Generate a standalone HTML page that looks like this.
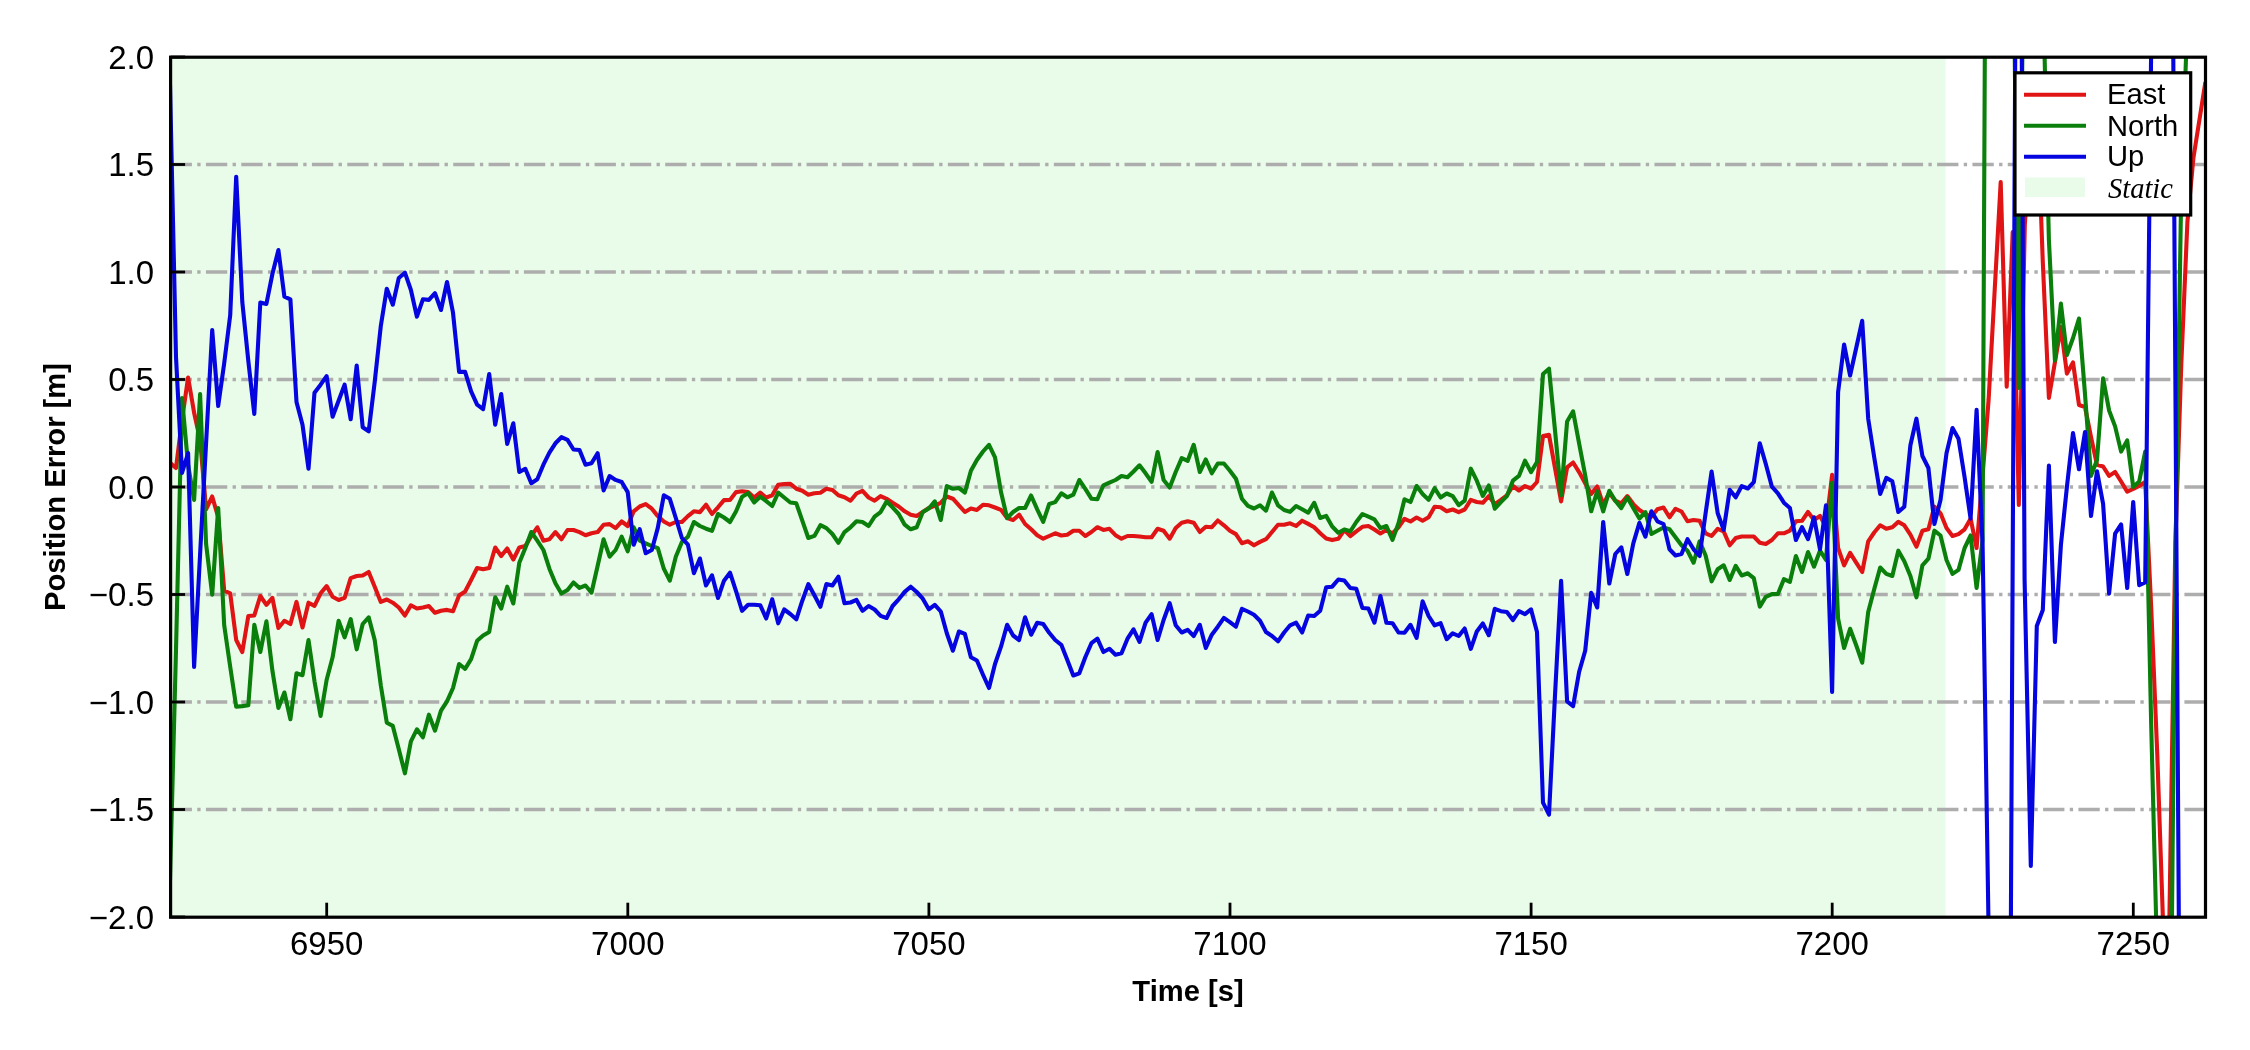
<!DOCTYPE html>
<html><head><meta charset="utf-8"><title>Position Error</title>
<style>html,body{margin:0;padding:0;background:#fff;}body{width:2250px;height:1050px;overflow:hidden;position:relative;font-family:"Liberation Sans",sans-serif;}</style></head>
<body>
<svg width="2250" height="1050" viewBox="0 0 2250 1050" style="position:absolute;left:0;top:0">
<defs><clipPath id="ax"><rect x="170.6" y="57.2" width="2034.9" height="860.0"/></clipPath></defs>
<rect x="0" y="0" width="2250" height="1050" fill="#ffffff"/>
<rect x="170.6" y="57.2" width="1775.0" height="860.0" fill="#e9fce9"/>
<line x1="170.6" y1="164.5" x2="2205.5" y2="164.5" stroke="#adadad" stroke-width="3.33" stroke-dasharray="21.33 5.33 3.33 5.34"/>
<line x1="170.6" y1="272.0" x2="2205.5" y2="272.0" stroke="#adadad" stroke-width="3.33" stroke-dasharray="21.33 5.33 3.33 5.34"/>
<line x1="170.6" y1="379.5" x2="2205.5" y2="379.5" stroke="#adadad" stroke-width="3.33" stroke-dasharray="21.33 5.33 3.33 5.34"/>
<line x1="170.6" y1="487.0" x2="2205.5" y2="487.0" stroke="#adadad" stroke-width="3.33" stroke-dasharray="21.33 5.33 3.33 5.34"/>
<line x1="170.6" y1="594.5" x2="2205.5" y2="594.5" stroke="#adadad" stroke-width="3.33" stroke-dasharray="21.33 5.33 3.33 5.34"/>
<line x1="170.6" y1="702.0" x2="2205.5" y2="702.0" stroke="#adadad" stroke-width="3.33" stroke-dasharray="21.33 5.33 3.33 5.34"/>
<line x1="170.6" y1="809.5" x2="2205.5" y2="809.5" stroke="#adadad" stroke-width="3.33" stroke-dasharray="21.33 5.33 3.33 5.34"/>
<g clip-path="url(#ax)" fill="none" stroke-linejoin="round" stroke-linecap="butt">
<path d="M170.0,462.7 L176.0,468.0 L182.0,420.0 L188.1,377.5 L194.1,412.7 L200.1,440.0 L206.1,509.3 L212.2,496.5 L218.2,517.3 L224.2,590.7 L230.2,593.3 L236.2,640.0 L242.3,652.0 L248.3,616.0 L254.3,615.5 L260.3,596.0 L266.4,604.8 L272.4,597.9 L278.4,628.0 L284.4,620.8 L290.4,624.0 L296.5,601.9 L302.5,627.5 L308.5,602.7 L314.5,605.9 L320.6,593.3 L326.6,586.1 L332.6,596.8 L338.6,600.0 L344.6,597.9 L350.7,578.1 L356.7,576.0 L362.7,575.5 L368.7,572.0 L374.7,586.7 L380.8,601.9 L386.8,599.5 L392.8,602.7 L398.8,607.5 L404.9,615.5 L410.9,605.3 L416.9,608.5 L422.9,607.5 L428.9,606.1 L435.0,612.8 L441.0,610.7 L447.0,609.9 L453.0,611.2 L459.1,595.5 L465.1,591.5 L471.1,580.0 L477.1,568.0 L483.1,569.3 L489.2,568.0 L495.2,547.5 L501.2,556.0 L507.2,548.5 L513.3,559.5 L519.3,547.5 L525.3,546.1 L531.3,536.0 L537.3,527.3 L543.4,540.7 L549.4,539.3 L555.4,532.1 L561.4,539.3 L567.5,530.0 L573.5,530.0 L579.5,532.1 L585.5,535.3 L591.5,533.2 L597.6,532.1 L603.6,524.7 L609.6,524.1 L615.6,528.1 L621.7,521.5 L627.7,526.0 L633.7,511.3 L639.7,506.5 L645.7,504.1 L651.8,508.7 L657.8,516.1 L663.8,521.5 L669.8,524.7 L675.8,522.0 L681.9,522.0 L687.9,516.1 L693.9,511.3 L699.9,512.1 L706.0,504.7 L712.0,514.0 L718.0,507.3 L724.0,500.1 L730.0,499.9 L736.1,492.1 L742.1,491.3 L748.1,492.1 L754.1,497.5 L760.2,492.7 L766.2,497.5 L772.2,495.3 L778.2,484.7 L784.2,484.1 L790.3,483.9 L796.3,488.7 L802.3,490.8 L808.3,494.8 L814.4,493.2 L820.4,492.7 L826.4,488.7 L832.4,490.0 L838.4,495.3 L844.5,497.2 L850.5,500.7 L856.5,493.5 L862.5,490.8 L868.6,497.5 L874.6,500.7 L880.6,496.1 L886.6,498.8 L892.6,502.8 L898.7,506.5 L904.7,511.3 L910.7,514.7 L916.7,516.0 L922.8,512.0 L928.8,508.0 L934.8,505.9 L940.8,502.7 L946.8,496.5 L952.9,498.7 L958.9,505.3 L964.9,512.0 L970.9,508.5 L976.9,509.9 L983.0,504.8 L989.0,505.3 L995.0,507.5 L1001.0,509.9 L1007.1,518.1 L1013.1,520.0 L1019.1,514.7 L1025.1,524.0 L1031.1,529.3 L1037.2,535.2 L1043.2,538.7 L1049.2,536.0 L1055.2,533.3 L1061.3,535.5 L1067.3,534.7 L1073.3,530.7 L1079.3,530.7 L1085.3,536.0 L1091.4,532.0 L1097.4,527.2 L1103.4,529.9 L1109.4,528.8 L1115.5,535.2 L1121.5,538.7 L1127.5,536.0 L1133.5,536.0 L1139.5,536.5 L1145.6,537.3 L1151.6,537.3 L1157.6,528.8 L1163.6,530.7 L1169.7,538.7 L1175.7,528.0 L1181.7,522.7 L1187.7,521.3 L1193.7,522.7 L1199.8,532.0 L1205.8,526.7 L1211.8,527.2 L1217.8,520.5 L1223.9,525.3 L1229.9,530.7 L1235.9,534.1 L1241.9,543.2 L1247.9,541.3 L1254.0,545.3 L1260.0,541.9 L1266.0,539.2 L1272.0,532.0 L1278.0,524.8 L1284.1,524.7 L1290.1,523.3 L1296.1,526.0 L1302.1,520.7 L1308.2,523.9 L1314.2,527.3 L1320.2,533.2 L1326.2,538.5 L1332.2,540.1 L1338.3,538.8 L1344.3,530.0 L1350.3,536.1 L1356.3,531.3 L1362.4,526.8 L1368.4,526.0 L1374.4,529.5 L1380.4,533.5 L1386.4,530.0 L1392.5,533.5 L1398.5,527.3 L1404.5,518.8 L1410.5,521.5 L1416.6,517.5 L1422.6,520.7 L1428.6,517.2 L1434.6,506.8 L1440.6,507.3 L1446.7,511.3 L1452.7,509.5 L1458.7,512.1 L1464.7,509.5 L1470.8,499.9 L1476.8,502.0 L1482.8,502.8 L1488.8,496.1 L1494.8,504.1 L1500.9,499.9 L1506.9,495.3 L1512.9,486.0 L1518.9,490.5 L1525.0,486.0 L1531.0,488.7 L1537.0,482.0 L1543.0,435.9 L1549.0,434.8 L1555.1,468.7 L1561.1,501.5 L1567.1,467.3 L1573.1,462.5 L1579.1,472.1 L1585.2,483.3 L1591.2,494.0 L1597.2,486.5 L1603.2,504.7 L1609.3,492.7 L1615.3,500.7 L1621.3,503.3 L1627.3,496.1 L1633.3,504.1 L1639.4,510.0 L1645.4,514.0 L1651.4,516.7 L1657.4,509.3 L1663.5,507.5 L1669.5,517.3 L1675.5,508.8 L1681.5,511.5 L1687.5,521.3 L1693.6,520.0 L1699.6,520.8 L1705.6,533.3 L1711.6,536.0 L1717.7,528.8 L1723.7,531.5 L1729.7,545.3 L1735.7,538.1 L1741.7,536.5 L1747.8,536.5 L1753.8,536.5 L1759.8,542.7 L1765.8,544.0 L1771.9,540.0 L1777.9,533.3 L1783.9,533.3 L1789.9,530.7 L1795.9,521.3 L1802.0,520.8 L1808.0,512.0 L1814.0,520.0 L1820.0,516.0 L1826.0,526.7 L1832.1,474.9 L1838.1,548.0 L1844.1,565.3 L1850.1,552.8 L1856.2,562.7 L1862.2,572.0 L1868.2,541.3 L1874.2,532.5 L1880.2,525.3 L1886.3,528.8 L1892.3,527.2 L1898.3,521.9 L1904.3,525.3 L1910.4,534.7 L1916.4,546.7 L1922.4,530.7 L1928.4,529.3 L1934.4,506.7 L1940.5,513.3 L1946.5,528.0 L1952.5,536.0 L1958.5,534.1 L1964.6,529.3 L1970.6,518.7 L1976.6,548.0 L1982.6,475.0 L1988.6,400.0 L1994.7,290.0 L2000.7,182.0 L2006.7,386.7 L2012.7,232.0 L2018.8,505.0 L2024.8,225.0 L2030.8,130.0 L2036.8,100.0 L2042.8,262.0 L2048.9,398.0 L2054.9,362.4 L2060.9,327.0 L2066.9,373.6 L2073.0,362.4 L2079.0,405.0 L2085.0,407.0 L2091.0,437.0 L2097.0,464.7 L2103.1,466.5 L2109.1,475.9 L2115.1,472.0 L2121.1,481.5 L2127.2,491.7 L2133.2,489.0 L2139.2,486.0 L2145.2,482.0 L2151.2,607.0 L2157.3,755.0 L2163.3,930.0 L2169.3,925.0 L2175.3,545.0 L2181.3,364.0 L2187.4,222.0 L2193.4,158.0 L2199.4,120.0 L2205.4,82.0" stroke="#e01414" stroke-width="4.1"/>
<path d="M170.0,880.0 L176.0,650.0 L182.0,398.0 L188.1,465.0 L194.1,500.0 L200.1,394.0 L206.1,544.0 L212.2,594.7 L218.2,508.0 L224.2,625.3 L230.2,666.7 L236.2,706.7 L242.3,706.1 L248.3,705.3 L254.3,624.8 L260.3,652.0 L266.4,621.3 L272.4,670.7 L278.4,708.0 L284.4,692.5 L290.4,719.2 L296.5,673.3 L302.5,675.2 L308.5,640.0 L314.5,681.3 L320.6,716.0 L326.6,680.0 L332.6,657.3 L338.6,620.8 L344.6,637.3 L350.7,619.2 L356.7,649.3 L362.7,624.0 L368.7,617.3 L374.7,640.0 L380.8,685.3 L386.8,722.7 L392.8,725.9 L398.8,749.3 L404.9,773.3 L410.9,741.3 L416.9,729.3 L422.9,737.3 L428.9,714.7 L435.0,730.7 L441.0,710.7 L447.0,701.3 L453.0,688.0 L459.1,664.0 L465.1,668.8 L471.1,659.2 L477.1,640.8 L483.1,635.5 L489.2,632.0 L495.2,597.3 L501.2,608.5 L507.2,586.7 L513.3,603.5 L519.3,562.7 L525.3,548.0 L531.3,532.0 L537.3,540.7 L543.4,550.0 L549.4,568.7 L555.4,583.3 L561.4,593.5 L567.5,590.0 L573.5,582.5 L579.5,587.9 L585.5,585.5 L591.5,592.7 L597.6,566.0 L603.6,539.3 L609.6,556.7 L615.6,550.0 L621.7,536.7 L627.7,551.3 L633.7,527.3 L639.7,540.7 L645.7,543.3 L651.8,546.0 L657.8,548.1 L663.8,568.7 L669.8,580.7 L675.8,556.7 L681.9,542.0 L687.9,536.7 L693.9,522.0 L699.9,526.0 L706.0,528.7 L712.0,530.8 L718.0,514.0 L724.0,517.5 L730.0,522.0 L736.1,511.3 L742.1,496.7 L748.1,493.2 L754.1,502.5 L760.2,496.7 L766.2,501.2 L772.2,506.0 L778.2,492.7 L784.2,497.5 L790.3,502.5 L796.3,503.3 L802.3,520.7 L808.3,538.0 L814.4,535.9 L820.4,525.2 L826.4,528.1 L832.4,534.0 L838.4,542.8 L844.5,532.1 L850.5,527.3 L856.5,521.2 L862.5,522.0 L868.6,526.0 L874.6,516.7 L880.6,512.1 L886.6,501.5 L892.6,507.3 L898.7,514.0 L904.7,524.7 L910.7,529.3 L916.7,527.2 L922.8,512.0 L928.8,508.5 L934.8,501.3 L940.8,520.0 L946.8,486.1 L952.9,488.8 L958.9,488.0 L964.9,492.5 L970.9,470.7 L976.9,460.0 L983.0,451.5 L989.0,444.8 L995.0,457.3 L1001.0,492.0 L1007.1,518.1 L1013.1,512.0 L1019.1,508.0 L1025.1,508.0 L1031.1,495.5 L1037.2,509.3 L1043.2,521.9 L1049.2,504.0 L1055.2,502.1 L1061.3,493.3 L1067.3,497.3 L1073.3,494.7 L1079.3,480.0 L1085.3,488.8 L1091.4,498.7 L1097.4,499.2 L1103.4,485.3 L1109.4,482.7 L1115.5,480.0 L1121.5,476.0 L1127.5,477.3 L1133.5,471.5 L1139.5,465.3 L1145.6,473.3 L1151.6,481.9 L1157.6,452.0 L1163.6,480.0 L1169.7,487.5 L1175.7,472.0 L1181.7,458.1 L1187.7,460.8 L1193.7,444.8 L1199.8,472.0 L1205.8,459.5 L1211.8,473.3 L1217.8,463.5 L1223.9,463.5 L1229.9,470.7 L1235.9,478.7 L1241.9,498.7 L1247.9,505.9 L1254.0,508.5 L1260.0,505.3 L1266.0,510.7 L1272.0,492.5 L1278.0,505.3 L1284.1,510.0 L1290.1,511.9 L1296.1,506.0 L1302.1,509.2 L1308.2,512.7 L1314.2,502.8 L1320.2,518.0 L1326.2,515.9 L1332.2,526.5 L1338.3,532.7 L1344.3,529.5 L1350.3,531.3 L1356.3,522.0 L1362.4,514.0 L1368.4,516.7 L1374.4,519.3 L1380.4,528.1 L1386.4,526.0 L1392.5,539.9 L1398.5,523.3 L1404.5,499.3 L1410.5,502.0 L1416.6,486.0 L1422.6,494.0 L1428.6,499.9 L1434.6,488.1 L1440.6,497.5 L1446.7,493.5 L1452.7,496.1 L1458.7,505.2 L1464.7,500.7 L1470.8,468.7 L1476.8,480.7 L1482.8,495.9 L1488.8,485.5 L1494.8,508.7 L1500.9,502.0 L1506.9,496.1 L1512.9,480.7 L1518.9,475.9 L1525.0,460.7 L1531.0,472.1 L1537.0,462.0 L1543.0,374.0 L1549.0,368.7 L1555.1,431.3 L1561.1,495.3 L1567.1,421.5 L1573.1,411.3 L1579.1,443.3 L1585.2,475.3 L1591.2,511.3 L1597.2,491.3 L1603.2,511.3 L1609.3,490.8 L1615.3,500.7 L1621.3,508.1 L1627.3,497.5 L1633.3,508.1 L1639.4,518.5 L1645.4,512.1 L1651.4,534.0 L1657.4,530.7 L1663.5,527.5 L1669.5,529.3 L1675.5,537.3 L1681.5,545.3 L1687.5,550.7 L1693.6,562.7 L1699.6,541.3 L1705.6,555.5 L1711.6,581.3 L1717.7,569.3 L1723.7,565.3 L1729.7,580.0 L1735.7,565.9 L1741.7,575.5 L1747.8,573.3 L1753.8,578.1 L1759.8,606.7 L1765.8,596.8 L1771.9,594.1 L1777.9,593.9 L1783.9,579.2 L1789.9,581.9 L1795.9,556.0 L1802.0,572.0 L1808.0,552.0 L1814.0,566.7 L1820.0,550.7 L1826.0,560.0 L1832.1,482.9 L1838.1,618.7 L1844.1,648.0 L1850.1,628.8 L1856.2,645.3 L1862.2,662.7 L1868.2,612.0 L1874.2,589.3 L1880.2,567.5 L1886.3,573.9 L1892.3,576.0 L1898.3,550.7 L1904.3,561.3 L1910.4,576.0 L1916.4,597.3 L1922.4,565.3 L1928.4,558.7 L1934.4,530.7 L1940.5,535.5 L1946.5,560.0 L1952.5,573.9 L1958.5,569.9 L1964.6,548.0 L1970.6,535.5 L1976.6,588.0 L1982.6,540.0 L1988.6,-774.0 L1994.7,-900.0 L2000.7,-900.0 L2006.7,-900.0 L2012.7,-110.0 L2018.8,388.0 L2024.8,-173.0 L2030.8,-900.0 L2036.8,-600.0 L2042.8,-20.0 L2048.9,240.0 L2054.9,360.5 L2060.9,303.6 L2066.9,355.0 L2073.0,338.0 L2079.0,318.5 L2085.0,394.0 L2091.0,475.9 L2097.0,460.0 L2103.1,378.3 L2109.1,410.5 L2115.1,426.4 L2121.1,451.6 L2127.2,440.4 L2133.2,487.0 L2139.2,481.5 L2145.2,451.6 L2151.2,725.0 L2157.3,965.0 L2163.3,1100.0 L2169.3,1200.0 L2175.3,566.0 L2181.3,187.0 L2187.4,20.0 L2193.4,-200.0" stroke="#0b7f0b" stroke-width="4.1"/>
<path d="M170.0,85.0 L176.0,357.0 L182.0,473.0 L188.1,453.0 L194.1,667.0 L200.1,554.0 L206.1,443.0 L212.2,330.0 L218.2,406.0 L224.2,363.3 L230.2,315.3 L236.2,176.7 L242.3,302.0 L248.3,360.7 L254.3,414.0 L260.3,302.5 L266.4,303.9 L272.4,274.0 L278.4,250.0 L284.4,296.7 L290.4,299.3 L296.5,402.0 L302.5,424.7 L308.5,468.8 L314.5,392.7 L320.6,384.7 L326.6,376.1 L332.6,416.7 L338.6,400.7 L344.6,384.7 L350.7,419.3 L356.7,365.5 L362.7,427.3 L368.7,431.3 L374.7,382.0 L380.8,326.0 L386.8,288.7 L392.8,304.7 L398.8,278.0 L404.9,272.7 L410.9,290.0 L416.9,316.7 L422.9,299.3 L428.9,299.9 L435.0,293.2 L441.0,310.0 L447.0,282.0 L453.0,312.7 L459.1,371.9 L465.1,371.9 L471.1,391.3 L477.1,404.7 L483.1,409.2 L489.2,374.0 L495.2,424.7 L501.2,394.0 L507.2,444.0 L513.3,423.3 L519.3,472.0 L525.3,468.8 L531.3,483.2 L537.3,479.3 L543.4,464.7 L549.4,452.7 L555.4,443.3 L561.4,437.2 L567.5,439.9 L573.5,449.5 L579.5,450.0 L585.5,464.7 L591.5,463.3 L597.6,453.2 L603.6,490.5 L609.6,476.1 L615.6,479.9 L621.7,482.0 L627.7,492.1 L633.7,544.7 L639.7,529.2 L645.7,553.2 L651.8,550.0 L657.8,527.9 L663.8,495.3 L669.8,498.8 L675.8,518.0 L681.9,538.0 L687.9,544.7 L693.9,573.2 L699.9,558.5 L706.0,585.5 L712.0,575.3 L718.0,598.0 L724.0,580.7 L730.0,572.7 L736.1,591.3 L742.1,610.8 L748.1,604.7 L754.1,604.7 L760.2,605.2 L766.2,618.5 L772.2,599.3 L778.2,623.3 L784.2,609.5 L790.3,614.0 L796.3,619.3 L802.3,600.7 L808.3,584.1 L814.4,595.3 L820.4,606.8 L826.4,584.1 L832.4,585.5 L838.4,576.7 L844.5,603.3 L850.5,602.5 L856.5,599.9 L862.5,610.8 L868.6,606.0 L874.6,609.5 L880.6,615.9 L886.6,618.0 L892.6,606.0 L898.7,599.3 L904.7,591.9 L910.7,586.7 L916.7,592.0 L922.8,598.7 L928.8,609.3 L934.8,604.8 L940.8,611.5 L946.8,633.3 L952.9,650.7 L958.9,631.5 L964.9,633.9 L970.9,657.3 L976.9,660.5 L983.0,674.7 L989.0,688.0 L995.0,664.0 L1001.0,646.7 L1007.1,624.8 L1013.1,635.5 L1019.1,640.0 L1025.1,617.3 L1031.1,634.7 L1037.2,622.7 L1043.2,624.0 L1049.2,632.8 L1055.2,640.0 L1061.3,644.8 L1067.3,660.0 L1073.3,675.5 L1079.3,673.3 L1085.3,657.3 L1091.4,643.2 L1097.4,638.7 L1103.4,652.0 L1109.4,648.8 L1115.5,654.7 L1121.5,653.3 L1127.5,638.7 L1133.5,629.3 L1139.5,641.9 L1145.6,622.7 L1151.6,614.1 L1157.6,640.0 L1163.6,620.0 L1169.7,603.2 L1175.7,625.3 L1181.7,632.5 L1187.7,629.9 L1193.7,636.0 L1199.8,624.8 L1205.8,648.0 L1211.8,634.7 L1217.8,626.7 L1223.9,617.9 L1229.9,622.1 L1235.9,626.7 L1241.9,608.8 L1247.9,611.5 L1254.0,614.7 L1260.0,620.8 L1266.0,632.0 L1272.0,636.0 L1278.0,641.3 L1284.1,632.5 L1290.1,625.3 L1296.1,622.7 L1302.1,632.5 L1308.2,615.5 L1314.2,616.0 L1320.2,610.7 L1326.2,587.2 L1332.2,586.7 L1338.3,579.5 L1344.3,580.5 L1350.3,588.0 L1356.3,588.8 L1362.4,608.0 L1368.4,608.5 L1374.4,622.7 L1380.4,596.0 L1386.4,622.7 L1392.5,623.2 L1398.5,632.5 L1404.5,632.8 L1410.5,624.8 L1416.6,637.9 L1422.6,601.3 L1428.6,616.0 L1434.6,625.3 L1440.6,623.2 L1446.7,639.2 L1452.7,633.3 L1458.7,636.0 L1464.7,628.5 L1470.8,648.8 L1476.8,631.5 L1482.8,623.5 L1488.8,635.2 L1494.8,608.8 L1500.9,611.2 L1506.9,612.0 L1512.9,620.0 L1518.9,611.2 L1525.0,614.1 L1531.0,609.3 L1537.0,632.0 L1543.0,802.7 L1549.0,814.7 L1555.1,693.3 L1561.1,580.8 L1567.1,701.3 L1573.1,706.1 L1579.1,672.0 L1585.2,650.7 L1591.2,592.8 L1597.2,607.5 L1603.2,522.0 L1609.3,583.5 L1615.3,554.0 L1621.3,547.3 L1627.3,574.0 L1633.3,543.3 L1639.4,522.8 L1645.4,536.7 L1651.4,511.3 L1657.4,521.3 L1663.5,524.0 L1669.5,549.3 L1675.5,555.5 L1681.5,554.1 L1687.5,539.2 L1693.6,549.3 L1699.6,556.0 L1705.6,513.3 L1711.6,471.5 L1717.7,513.3 L1723.7,529.9 L1729.7,489.9 L1735.7,497.3 L1741.7,486.1 L1747.8,488.5 L1753.8,482.1 L1759.8,443.2 L1765.8,464.0 L1771.9,486.7 L1777.9,493.3 L1783.9,502.7 L1789.9,508.0 L1795.9,540.0 L1802.0,527.2 L1808.0,539.2 L1814.0,517.3 L1820.0,549.3 L1826.0,505.3 L1832.1,692.0 L1838.1,392.0 L1844.1,344.5 L1850.1,375.5 L1856.2,348.0 L1862.2,320.8 L1868.2,418.7 L1874.2,457.3 L1880.2,493.9 L1886.3,477.9 L1892.3,481.3 L1898.3,512.0 L1904.3,506.7 L1910.4,445.3 L1916.4,418.7 L1922.4,456.0 L1928.4,468.0 L1934.4,524.0 L1940.5,500.0 L1946.5,453.3 L1952.5,428.0 L1958.5,438.7 L1964.6,477.3 L1970.6,518.7 L1976.6,409.9 L1982.6,545.0 L1988.6,930.0 L2000.0,1500.0 L2006.6,1777.0 L2010.9,917.0 L2015.2,58.0 L2016.0,-100.0 L2021.0,-100.0 L2021.8,58.0 L2024.6,580.0 L2030.8,866.0 L2036.8,626.0 L2042.8,610.0 L2048.9,465.6 L2054.9,642.0 L2060.9,545.0 L2066.9,487.0 L2073.0,433.0 L2079.0,469.3 L2085.0,432.0 L2091.0,516.0 L2097.0,471.2 L2103.1,503.9 L2109.1,593.6 L2115.1,533.7 L2121.1,524.4 L2127.2,588.0 L2133.2,502.0 L2139.2,585.2 L2145.2,582.4 L2151.2,45.0 L2157.3,-400.0 L2163.3,-500.0 L2169.3,-566.0 L2175.3,370.0 L2181.3,1306.0" stroke="#0505e0" stroke-width="4.1"/>
</g>
<line x1="170.6" y1="57.0" x2="185.1" y2="57.0" stroke="#000" stroke-width="2.8"/>
<line x1="170.6" y1="164.5" x2="185.1" y2="164.5" stroke="#000" stroke-width="2.8"/>
<line x1="170.6" y1="272.0" x2="185.1" y2="272.0" stroke="#000" stroke-width="2.8"/>
<line x1="170.6" y1="379.5" x2="185.1" y2="379.5" stroke="#000" stroke-width="2.8"/>
<line x1="170.6" y1="487.0" x2="185.1" y2="487.0" stroke="#000" stroke-width="2.8"/>
<line x1="170.6" y1="594.5" x2="185.1" y2="594.5" stroke="#000" stroke-width="2.8"/>
<line x1="170.6" y1="702.0" x2="185.1" y2="702.0" stroke="#000" stroke-width="2.8"/>
<line x1="170.6" y1="809.5" x2="185.1" y2="809.5" stroke="#000" stroke-width="2.8"/>
<line x1="170.6" y1="917.0" x2="185.1" y2="917.0" stroke="#000" stroke-width="2.8"/>
<line x1="326.7" y1="917.2" x2="326.7" y2="902.7" stroke="#000" stroke-width="2.8"/>
<line x1="627.8" y1="917.2" x2="627.8" y2="902.7" stroke="#000" stroke-width="2.8"/>
<line x1="928.9" y1="917.2" x2="928.9" y2="902.7" stroke="#000" stroke-width="2.8"/>
<line x1="1230.0" y1="917.2" x2="1230.0" y2="902.7" stroke="#000" stroke-width="2.8"/>
<line x1="1531.1" y1="917.2" x2="1531.1" y2="902.7" stroke="#000" stroke-width="2.8"/>
<line x1="1832.2" y1="917.2" x2="1832.2" y2="902.7" stroke="#000" stroke-width="2.8"/>
<line x1="2133.3" y1="917.2" x2="2133.3" y2="902.7" stroke="#000" stroke-width="2.8"/>
<rect x="170.6" y="57.2" width="2034.9" height="860.0" fill="none" stroke="#000" stroke-width="3.2"/>
<rect x="2015.0" y="72.8" width="175.69999999999982" height="142.2" fill="#fff" stroke="#000" stroke-width="3.2"/>
<line x1="2024" y1="94.8" x2="2086" y2="94.8" stroke="#e01414" stroke-width="4.1"/>
<line x1="2024" y1="125.8" x2="2086" y2="125.8" stroke="#0b7f0b" stroke-width="4.1"/>
<line x1="2024" y1="156.8" x2="2086" y2="156.8" stroke="#0505e0" stroke-width="4.1"/>
<rect x="2025" y="177.5" width="60" height="19.5" fill="#e9fce9"/>
</svg>
<svg width="2250" height="1050" viewBox="0 0 2250 1050" style="position:absolute;left:0;top:0;will-change:transform">
<text x="2107" y="104.1" font-family="Liberation Sans, sans-serif" font-size="29.17" fill="#000">East</text>
<text x="2107" y="135.5" font-family="Liberation Sans, sans-serif" font-size="29.17" fill="#000">North</text>
<text x="2107" y="166.3" font-family="Liberation Sans, sans-serif" font-size="29.17" fill="#000">Up</text>
<text x="2108" y="197.5" font-family="Liberation Serif, serif" font-style="italic" font-size="28.5" fill="#000">Static</text>
<text x="154" y="68.9" text-anchor="end" font-family="Liberation Sans, sans-serif" font-size="33.0" fill="#000">2.0</text>
<text x="154" y="176.4" text-anchor="end" font-family="Liberation Sans, sans-serif" font-size="33.0" fill="#000">1.5</text>
<text x="154" y="283.9" text-anchor="end" font-family="Liberation Sans, sans-serif" font-size="33.0" fill="#000">1.0</text>
<text x="154" y="391.4" text-anchor="end" font-family="Liberation Sans, sans-serif" font-size="33.0" fill="#000">0.5</text>
<text x="154" y="498.9" text-anchor="end" font-family="Liberation Sans, sans-serif" font-size="33.0" fill="#000">0.0</text>
<text x="154" y="606.4" text-anchor="end" font-family="Liberation Sans, sans-serif" font-size="33.0" fill="#000">−0.5</text>
<text x="154" y="713.9" text-anchor="end" font-family="Liberation Sans, sans-serif" font-size="33.0" fill="#000">−1.0</text>
<text x="154" y="821.4" text-anchor="end" font-family="Liberation Sans, sans-serif" font-size="33.0" fill="#000">−1.5</text>
<text x="154" y="928.9" text-anchor="end" font-family="Liberation Sans, sans-serif" font-size="33.0" fill="#000">−2.0</text>
<text x="326.7" y="955" text-anchor="middle" font-family="Liberation Sans, sans-serif" font-size="33.0" fill="#000">6950</text>
<text x="627.8" y="955" text-anchor="middle" font-family="Liberation Sans, sans-serif" font-size="33.0" fill="#000">7000</text>
<text x="928.9" y="955" text-anchor="middle" font-family="Liberation Sans, sans-serif" font-size="33.0" fill="#000">7050</text>
<text x="1230.0" y="955" text-anchor="middle" font-family="Liberation Sans, sans-serif" font-size="33.0" fill="#000">7100</text>
<text x="1531.1" y="955" text-anchor="middle" font-family="Liberation Sans, sans-serif" font-size="33.0" fill="#000">7150</text>
<text x="1832.2" y="955" text-anchor="middle" font-family="Liberation Sans, sans-serif" font-size="33.0" fill="#000">7200</text>
<text x="2133.3" y="955" text-anchor="middle" font-family="Liberation Sans, sans-serif" font-size="33.0" fill="#000">7250</text>
<text x="1188" y="1001" text-anchor="middle" font-family="Liberation Sans, sans-serif" font-weight="bold" font-size="29.17" fill="#000">Time [s]</text>
<text transform="translate(64.5,487) rotate(-90)" text-anchor="middle" font-family="Liberation Sans, sans-serif" font-weight="bold" font-size="29.17" fill="#000">Position Error [m]</text>
</svg>
</body></html>
